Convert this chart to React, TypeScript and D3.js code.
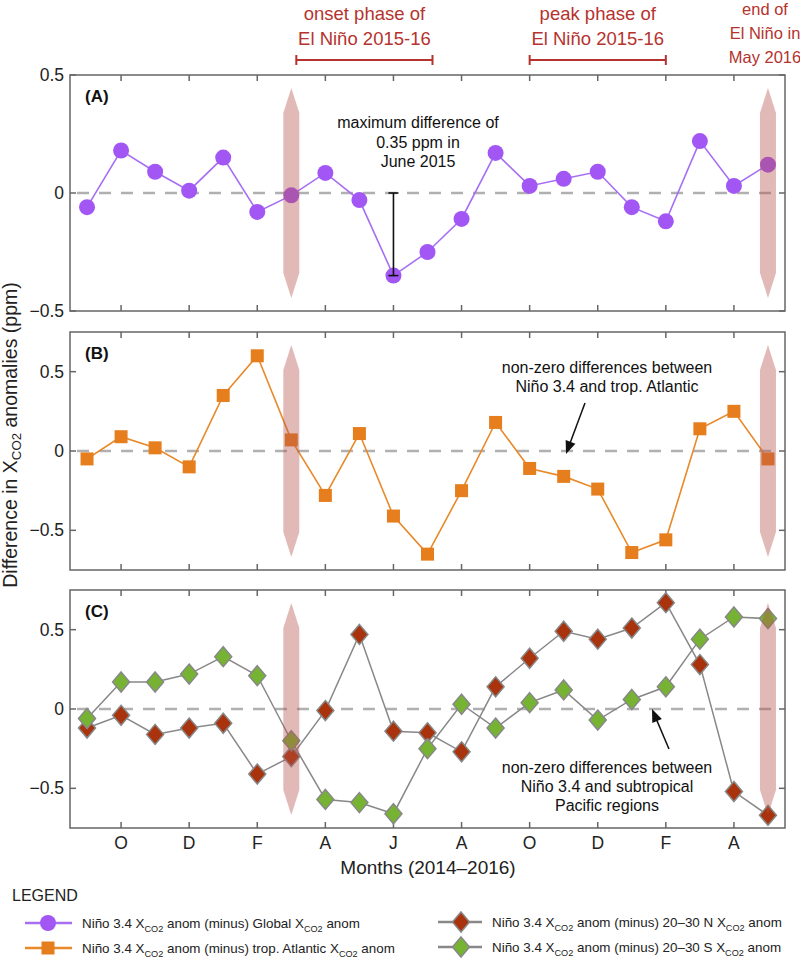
import React from 'react';
import * as d3 from 'd3';

// Sep 2014 .. May 2016, one value per month
const months = [
  'Sep 2014', 'Oct 2014', 'Nov 2014', 'Dec 2014', 'Jan 2015', 'Feb 2015', 'Mar 2015',
  'Apr 2015', 'May 2015', 'Jun 2015', 'Jul 2015', 'Aug 2015', 'Sep 2015', 'Oct 2015',
  'Nov 2015', 'Dec 2015', 'Jan 2016', 'Feb 2016', 'Mar 2016', 'Apr 2016', 'May 2016',
];
const tickMonths = ['Oct 2014', 'Dec 2014', 'Feb 2015', 'Apr 2015', 'Jun 2015', 'Aug 2015', 'Oct 2015', 'Dec 2015', 'Feb 2016', 'Apr 2016'];
const tickLabels = ['O', 'D', 'F', 'A', 'J', 'A', 'O', 'D', 'F', 'A'];

const globalDiff = [-0.06, 0.18, 0.09, 0.01, 0.15, -0.08, -0.01, 0.085, -0.03, -0.35, -0.25, -0.11, 0.17, 0.03, 0.06, 0.09, -0.06, -0.12, 0.22, 0.03, 0.12];
const atlanticDiff = [-0.05, 0.09, 0.02, -0.1, 0.35, 0.6, 0.07, -0.28, 0.11, -0.41, -0.65, -0.25, 0.18, -0.11, -0.16, -0.24, -0.64, -0.56, 0.14, 0.25, -0.05];
const north2030Diff = [-0.12, -0.04, -0.16, -0.12, -0.09, -0.41, -0.3, -0.01, 0.47, -0.14, -0.15, -0.27, 0.14, 0.32, 0.49, 0.44, 0.51, 0.67, 0.28, -0.52, -0.67];
const south2030Diff = [-0.06, 0.17, 0.17, 0.22, 0.33, 0.21, -0.2, -0.57, -0.59, -0.66, -0.25, 0.03, -0.12, 0.04, 0.12, -0.07, 0.06, 0.14, 0.44, 0.58, 0.57];

const elNinoMarks = ['Mar 2015', 'May 2016'];
const maxDiffMonth = 'Jun 2015';

const legendLabels = [
  'Niño 3.4 X_CO2 anom (minus) Global X_CO2 anom',
  'Niño 3.4 X_CO2 anom (minus) trop. Atlantic X_CO2 anom',
  'Niño 3.4 X_CO2 anom (minus) 20–30 N X_CO2 anom',
  'Niño 3.4 X_CO2 anom (minus) 20–30 S X_CO2 anom',
];

const W = 800, H = 960;
const left = 70, right = 785;
const RED = '#b5332e';
const FONT = '"Liberation Sans", Arial, Helvetica, sans-serif';

const x = d3.scaleLinear().domain([-0.5, months.length - 0.5]).range([left, right]);
const xm = (m: string) => x(months.indexOf(m));

const panels = [
  { key: 'A', top: 75, bottom: 311, domain: [-0.5, 0.5] },
  { key: 'B', top: 332, bottom: 570, domain: [-0.75, 0.75] },
  { key: 'C', top: 590, bottom: 828, domain: [-0.75, 0.75] },
];

const diamond = (cx: number, cy: number) =>
  `M${cx},${cy - 10}L${cx + 8.5},${cy}L${cx},${cy + 10}L${cx - 8.5},${cy}Z`;

// "X_CO2" -> X with subscript CO2
function subText(s: string) {
  const parts = s.split('_CO2');
  const out: any[] = [];
  parts.forEach((p, i) => {
    out.push(<tspan key={'t' + i} dy={i > 0 ? -4 : 0}>{p}</tspan>);
    if (i < parts.length - 1) out.push(<tspan key={'s' + i} dy={4} fontSize="0.68em">CO2</tspan>);
  });
  return out;
}

function Panel({ p, children }: any) {
  const y = d3.scaleLinear().domain(p.domain).range([p.bottom, p.top]);
  const yt = [-0.5, 0, 0.5];
  const fmt = (v: number) => (v === 0 ? '0' : v < 0 ? '\u2212' + Math.abs(v) : String(v));
  return (
    <g>
      <rect x={left} y={p.top} width={right - left} height={p.bottom - p.top} fill="none" stroke="#666" strokeWidth={1.5} />
      {tickMonths.map(m => (
        <g key={m}>
          <line x1={xm(m)} x2={xm(m)} y1={p.top} y2={p.top + 6} stroke="#666" strokeWidth={1.5} />
          <line x1={xm(m)} x2={xm(m)} y1={p.bottom} y2={p.bottom - 6} stroke="#666" strokeWidth={1.5} />
        </g>
      ))}
      {yt.map(v => (
        <g key={v}>
          <line x1={left} x2={left + 6} y1={y(v)} y2={y(v)} stroke="#666" strokeWidth={1.5} />
          <line x1={right} x2={right - 6} y1={y(v)} y2={y(v)} stroke="#666" strokeWidth={1.5} />
          <text x={left - 6} y={y(v)} dy="0.35em" textAnchor="end" fontSize={17.5} fill="#222">{fmt(v)}</text>
        </g>
      ))}
      <line x1={left + 7} x2={right - 4} y1={y(0)} y2={y(0)} stroke="#b0b0b0" strokeWidth={2.5} strokeDasharray="12 10" />
      <text x={85} y={p.top + 27} fontSize={17} fontWeight="bold" fill="#111">({p.key})</text>
      {children(y)}
      {elNinoMarks.map(m => {
        const cx = xm(m), t = p.top + 13, b = p.bottom - 13, w = 8;
        return (
          <path key={m}
            d={`M${cx},${t}L${cx + w},${t + 25}L${cx + w},${b - 25}L${cx},${b}L${cx - w},${b - 25}L${cx - w},${t + 25}Z`}
            fill="#b5524c" opacity={0.4} />
        );
      })}
    </g>
  );
}

function Arrow({ x1, y1, x2, y2 }: any) {
  const a = Math.atan2(y2 - y1, x2 - x1);
  const L = 14, s = 0.38;
  const p1 = [x2 - L * Math.cos(a - s), y2 - L * Math.sin(a - s)];
  const p2 = [x2 - L * Math.cos(a + s), y2 - L * Math.sin(a + s)];
  return (
    <g>
      <line x1={x1} y1={y1} x2={x2 - 8 * Math.cos(a)} y2={y2 - 8 * Math.sin(a)} stroke="#111" strokeWidth={1.5} />
      <path d={`M${x2},${y2}L${p1[0]},${p1[1]}L${p2[0]},${p2[1]}Z`} fill="#111" />
    </g>
  );
}

export default function App() {
  const line = (vals: number[], y: any) =>
    d3.line<number>().x((_, i) => x(i)).y(d => y(d))(vals) || '';
  const onsetX = (xm('Mar 2015') + xm('Jul 2015')) / 2 + 5;
  const peakX = (xm('Oct 2015') + xm('Feb 2016')) / 2;

  return (
    <svg width={W} height={H} style={{ position: 'absolute', left: 0, top: 0, background: '#fff' }} fontFamily={FONT}>
      {/* El Niño phase annotations */}
      <g fill={RED} fontSize={18.5} textAnchor="middle">
        <text x={onsetX} y={20}>onset phase of</text>
        <text x={onsetX} y={45}>El Niño 2015-16</text>
        <text x={peakX} y={20}>peak phase of</text>
        <text x={peakX} y={45}>El Niño 2015-16</text>
      </g>
      <g fill={RED} fontSize={16.5} textAnchor="middle">
        <text x={765} y={15}>end of</text>
        <text x={765} y={39}>El Niño in</text>
        <text x={765} y={63}>May 2016</text>
      </g>
      {[[xm('Mar 2015') + 5, xm('Jul 2015') + 5], [xm('Oct 2015'), xm('Feb 2016')]].map(([a, b], i) => (
        <g key={i} stroke={RED} strokeWidth={2}>
          <line x1={a} x2={b} y1={60} y2={60} />
          <line x1={a} x2={a} y1={55} y2={65} />
          <line x1={b} x2={b} y1={55} y2={65} />
        </g>
      ))}

      {/* (A) */}
      <Panel p={panels[0]}>
        {(y: any) => {
          const mx = xm(maxDiffMonth);
          const mv = globalDiff[months.indexOf(maxDiffMonth)];
          return (
            <g>
              <path d={line(globalDiff, y)} fill="none" stroke="#a66ff2" strokeWidth={1.6} />
              {globalDiff.map((v, i) => <circle key={i} cx={x(i)} cy={y(v)} r={8} fill="#a257f5" />)}
              <g stroke="#111" strokeWidth={1.6}>
                <line x1={mx} x2={mx} y1={y(0)} y2={y(mv)} />
                <line x1={mx - 5} x2={mx + 5} y1={y(0)} y2={y(0)} />
                <line x1={mx - 5} x2={mx + 5} y1={y(mv)} y2={y(mv)} />
              </g>
              <g fontSize={16} textAnchor="middle" fill="#111">
                <text x={418} y={128}>maximum difference of</text>
                <text x={418} y={148}>0.35 ppm in</text>
                <text x={418} y={167}>June 2015</text>
              </g>
            </g>
          );
        }}
      </Panel>

      {/* (B) */}
      <Panel p={panels[1]}>
        {(y: any) => (
          <g>
            <path d={line(atlanticDiff, y)} fill="none" stroke="#e8892a" strokeWidth={1.6} />
            {atlanticDiff.map((v, i) => <rect key={i} x={x(i) - 6.5} y={y(v) - 6.5} width={13} height={13} fill="#e67e1e" />)}
            <g fontSize={16} textAnchor="middle" fill="#111">
              <text x={607} y={373}>non-zero differences between</text>
              <text x={607} y={392}>Niño 3.4 and trop. Atlantic</text>
            </g>
            <Arrow x1={585} y1={403} x2={566} y2={454} />
          </g>
        )}
      </Panel>

      {/* (C) */}
      <Panel p={panels[2]}>
        {(y: any) => (
          <g>
            <path d={line(north2030Diff, y)} fill="none" stroke="#888" strokeWidth={1.5} />
            <path d={line(south2030Diff, y)} fill="none" stroke="#888" strokeWidth={1.5} />
            {north2030Diff.map((v, i) => <path key={'n' + i} d={diamond(x(i), y(v))} fill="#a8330c" stroke="#888" strokeWidth={1.5} />)}
            {south2030Diff.map((v, i) => <path key={'s' + i} d={diamond(x(i), y(v))} fill="#77b332" stroke="#888" strokeWidth={1.5} />)}
            <g fontSize={16} textAnchor="middle" fill="#111">
              <text x={607} y={773}>non-zero differences between</text>
              <text x={607} y={792}>Niño 3.4 and subtropical</text>
              <text x={607} y={811}>Pacific regions</text>
            </g>
            <Arrow x1={669} y1={749} x2={652} y2={709} />
          </g>
        )}
      </Panel>

      {/* x axis labels */}
      {tickMonths.map((m, i) => (
        <text key={m + i} x={xm(m)} y={849} textAnchor="middle" fontSize={17.5} fill="#222">{tickLabels[i]}</text>
      ))}
      <text x={428} y={874} textAnchor="middle" fontSize={19} fill="#222">Months (2014–2016)</text>

      {/* y axis label */}
      <text transform="translate(17,435) rotate(-90)" textAnchor="middle" fontSize={19.5} fill="#222">
        {subText('Difference in X_CO2 anomalies (ppm)')}
      </text>

      {/* legend */}
      <text x={12} y={901} fontSize={16} fill="#222">LEGEND</text>
      <g fontSize={13.4} fill="#222">
        <line x1={25} x2={72} y1={923} y2={923} stroke="#a66ff2" strokeWidth={2.5} />
        <circle cx={48} cy={923} r={8} fill="#a257f5" />
        <text x={82} y={928}>{subText(legendLabels[0])}</text>

        <line x1={25} x2={72} y1={948} y2={948} stroke="#e8892a" strokeWidth={2.5} />
        <rect x={41.5} y={941.5} width={13} height={13} fill="#e67e1e" />
        <text x={82} y={953}>{subText(legendLabels[1])}</text>

        <line x1={438} x2={482} y1={922} y2={922} stroke="#888" strokeWidth={2.5} />
        <path d={diamond(461, 922)} fill="#a8330c" stroke="#888" strokeWidth={1.5} />
        <text x={492} y={927}>{subText(legendLabels[2])}</text>

        <line x1={438} x2={482} y1={947} y2={947} stroke="#888" strokeWidth={2.5} />
        <path d={diamond(461, 947)} fill="#77b332" stroke="#888" strokeWidth={1.5} />
        <text x={492} y={952}>{subText(legendLabels[3])}</text>
      </g>
    </svg>
  );
}
